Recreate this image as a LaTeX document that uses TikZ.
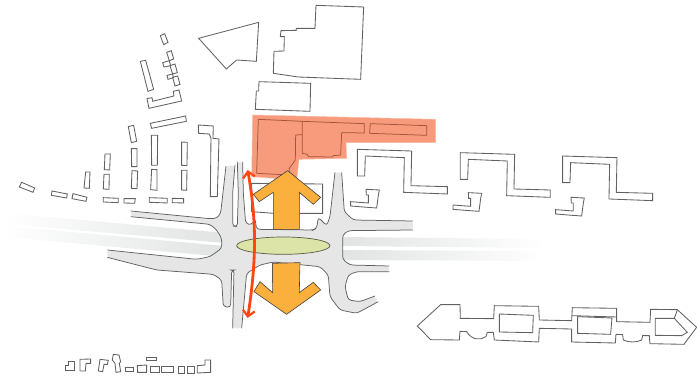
\documentclass[tikz,border=0pt]{standalone}
\usetikzlibrary{arrows.meta}
\definecolor{roadfill}{HTML}{E6E6E6}
\definecolor{bandc}{HTML}{E1E3E3}
\definecolor{peach}{HTML}{F79B7C}
\definecolor{peachline}{HTML}{A5533A}
\definecolor{amber}{HTML}{FBAF3C}
\definecolor{olive}{HTML}{DDE4A8}
\definecolor{redarrow}{HTML}{FF4514}
\tikzset{
  bld/.style={draw=black!62,line width=0.85pt,line join=miter,fill=none},
  roadedge/.style={draw=black!62,line width=0.75pt,rounded corners=3pt},
  bigarrow/.style={fill=amber,draw=black!75,line width=0.6pt,line join=miter},
  inpeach/.style={draw=peachline,line width=0.75pt},
  zoomA/.style={shift={(0,0)},x=0.3333pt,y=-0.3333pt},
  zoomB/.style={shift={(190,0)},x=0.3333pt,y=-0.3333pt},
  zoomC/.style={shift={(100,160)},x=0.3333pt,y=-0.3333pt},
  zoomD/.style={shift={(340,140)},x=0.3333pt,y=-0.3333pt},
  zoomE/.style={shift={(410,290)},x=0.3333pt,y=-0.3333pt},
  zoomF/.style={shift={(50,345)},x=0.3333pt,y=-0.3333pt},
}
\newcommand\rdA{--(362,160)--(350,175)--(330,176)--(92,153)}
\newcommand\rdB{--(330,193)--(350,210)--(365,235)--(365,265)--(330,290)--(290,298)--(22,270)}
\newcommand\rdC{--(170,330)--(340,343)--(365,360)--(370,440)--(392,442)--(395,330)--(402,330)--(398,505)}
\newcommand\rdD{--(440,340)--(480,315)--(520,306)--(660,320)--(685,345)--(690,410)--(720,450)--(770,460)--(835,425)}
\newcommand\rdE{--(780,425)--(745,420)--(735,380)--(745,345)--(770,335)--(868,335)}
\newcommand\rdF{--(750,315)--(728,298)--(728,225)--(745,212)--(939,210)}
\newcommand\rdG{--(760,180)--(733,155)--(725,37)}
\newcommand\rdH{--(690,170)--(680,197)--(655,172)--(650,205)--(640,210)--(470,208)--(465,175)--(455,195)--(437,190)--(430,100)--(428,5)}
\newcommand\rdI{--(415,100)--(412,200)--(398,198)--(398,100)--(405,15)}
\begin{document}
\begin{tikzpicture}[x=1pt,y=-1pt]
\useasboundingbox (0,0) rectangle (697,378);
% highway bands
\shade[left color=white,middle color=bandc!75,right color=bandc] (5,213)--(225,233)--(225,243)--(5,224)--cycle;
\shade[left color=white,middle color=bandc!75,right color=bandc] (5,226)--(225,246)--(225,257)--(5,237)--cycle;
\shade[left color=bandc,middle color=bandc!70,right color=white] (340,237)--(545,239)--(545,248)--(340,246)--cycle;
\shade[left color=bandc,middle color=bandc!70,right color=white] (340,250)--(545,251)--(545,261)--(340,260)--cycle;
% road
\begin{scope}[zoomC]
\fill[roadfill,rounded corners=3pt] (378,18)\rdA--(92,170)\rdB--(22,292)\rdC--(425,505)\rdD--(825,408)\rdE--(868,318)\rdF--(939,183)\rdG--(705,37)\rdH--(412,5)\rdI--cycle;
\draw[roadedge] (378,18)\rdA;
\draw[roadedge] (92,170)\rdB;
\draw[roadedge] (22,292)\rdC;
\draw[roadedge] (425,505)\rdD;
\draw[roadedge] (825,408)\rdE;
\draw[roadedge] (868,318)\rdF;
\draw[roadedge] (939,183)\rdG;
\draw[roadedge] (705,37)\rdH;
\draw[roadedge] (412,5)\rdI;
% buildings behind the arrow
\draw[bld] (455,155)--(455,70)--(668,72)--(668,160)--(600,160);
\draw[bld] (455,155)--(520,160);
\draw[bld] (518,310)--(518,370);
\end{scope}
% left blocks
\begin{scope}[zoomA]
\foreach \p in {
 {(481,107)--(494,101)--(504,127)--(491,134)},
 {(500,157)--(514,152)--(521,177)--(508,182)},
 {(488,188)--(508,182)--(512,197)--(492,201)},
 {(510,197)--(525,192)--(532,218)--(518,222)},
 {(501,226)--(518,222)--(520,233)--(504,238)},
 {(518,232)--(533,228)--(540,253)--(525,258)},
 {(421,184)--(437,181)--(461,268)--(444,274)},
 {(441,296)--(456,293)--(458,304)--(522,288)--(520,274)--(537,270)--(545,303)--(447,325)},
 {(451,370)--(557,348)--(559,364)--(455,385)},
 {(385,380)--(401,376)--(410,424)--(394,428)},
 {(394,446)--(411,446)--(411,500)--(395,500)},
 {(396,512)--(413,513)--(411,566)--(394,565)},
 {(454,406)--(473,406)--(472,496)--(455,496)},
 {(455,508)--(471,509)--(471,571)--(452,569)},
 {(545,426)--(562,427)--(561,497)--(545,496)},
 {(545,511)--(561,511)--(560,571)--(545,570)},
 {(315,462)--(331,462)--(329,510)--(313,509)},
 {(312,523)--(328,523)--(327,568)--(310,567)},
 {(257,516)--(270,516)--(268,565)--(252,564)},
 {(310,593)--(355,595)--(355,608)--(310,606)},
 {(372,596)--(406,596)--(404,610)--(372,609)},
 {(448,593)--(502,595)--(502,609)--(448,607)},
 {(517,595)--(551,596)--(551,609)--(517,608)},
 {(65,547)--(104,564)--(99,577)--(58,561)},
 {(156,573)--(202,582)--(200,594)--(154,586)},
 {(219,581)--(261,592)--(258,604)--(216,596)},
 {(595,375)--(640,378)--(639,415)--(657,417)--(652,590)--(631,590)--(633,415)--(628,402)--(596,400)}
}{\draw[bld] \p --cycle;}
\end{scope}
% peach area and upper buildings
\begin{scope}[zoomB]
\fill[peach,draw=peach!70,line width=0.5pt] (188,345)--(737,358)--(737,428)--(468,428)--(470,475)--(327,478)--(320,540)--(185,530)--cycle;
\draw[inpeach] (337,364)--(337,404)--(317,405)--(316,480)--(298,505)--(297,525)--(200,520)--(205,358)--(337,364)--(523,371)--(523,399)--(455,398)--(452,465)--(430,467)--(428,471)--(355,470)--(352,463)--(337,460)--(337,404);
\draw[inpeach] (541,371)--(710,377)--(710,406)--(539,400)--cycle;
\draw[bld] (26,115)--(206,67)--(199,184)--(140,180)--(109,207)--cycle;
\draw[bld] (378,16)--(521,21)--(512,238)--(325,231)--(250,220)--(252,154)--(282,153)--(283,110)--(271,110)--(273,92)--(319,91)--(319,85)--(375,85)--cycle;
\draw[bld] (207,245)--(362,250)--(360,334)--(196,328)--(199,273)--(206,273)--cycle;
\end{scope}
% U-shaped blocks
\begin{scope}[zoomD]
\foreach \dx/\dy/\ex/\ey in {0/0/0/0,309/10/307/10,616/20/615/24}{
 \draw[bld] (52+\dx,28+\dy)--(215+\dx,33+\dy)--(213+\dx,137+\dy)--(322+\dx,140+\dy)--(322+\dx,162+\dy)--(191+\dx,157+\dy)--(193+\dx,53+\dy)--(76+\dx,48+\dy)--(74+\dx,108+\dy)--(52+\dx,108+\dy)--cycle;
 \draw[bld] (78+\ex,148+\ey)--(118+\ex,150+\ey)--(115+\ex,166+\ey)--(110+\ex,204+\ey)--(82+\ex,202+\ey)--(32+\ex,198+\ey)--(32+\ex,185+\ey)--(85+\ex,189+\ey)--(85+\ex,165+\ey)--(79+\ex,165+\ey)--cycle;
}
\end{scope}
% long building
\begin{scope}[zoomE]
\draw[bld] (22,108)--(92,44)--(150,44)--(151,85)--(251,86)--(253,47)--(386,49)--(388,90)--(485,92)--(487,53)--(620,55)--(620,95)--(720,97)--(722,58)--(802,59)--(860,112)--(822,163)--(720,161)--(718,137)--(698,137)--(695,150) .. controls (680,158) and (655,158) .. (640,150)--(638,134)--(618,133)--(616,159)--(485,156)--(485,117)--(388,115)--(386,156)--(253,150)--(250,127)--(232,127)--(228,140) .. controls (210,152) and (185,150) .. (170,125)--(150,124)--(148,150)--(62,149)--cycle;
\draw[bld] (268,72)--(370,76)--(368,128)--(268,126)--cycle;
\draw[bld] (503,80)--(606,84)--(602,133)--(503,130)--cycle;
\draw[bld] (487,77)--(620,81);
\draw[bld] (736,85)--(793,85)--(832,127)--(815,137)--(736,136)--cycle;
\draw[bld] (793,85)--(802,60);
\end{scope}
% bottom small blocks
\begin{scope}[zoomF]
\foreach \p in {
 {(55,50)--(72,50)--(72,76)--(45,76)--(45,62)--(55,62)},
 {(90,43)--(122,42)--(122,55)--(108,55)--(106,78)--(90,78)},
 {(150,43)--(175,46)--(172,58)--(162,58)--(158,80)--(145,78)},
 {(190,28)--(207,30)--(212,50)--(208,55)--(212,80)--(198,82)--(195,55)--(187,45)},
 {(225,67)--(250,67)--(250,78)--(225,78)},
 {(262,62)--(290,60)--(290,82)--(263,82)},
 {(288,36)--(318,36)--(318,46)--(288,46)},
 {(302,64)--(327,64)--(327,82)--(302,82)},
 {(335,65)--(370,65)--(370,82)--(335,82)},
 {(385,65)--(404,65)--(404,84)--(385,84)},
 {(412,65)--(432,65)--(432,84)--(412,84)},
 {(442,62)--(465,60)--(465,45)--(482,45)--(482,82)--(442,84)}
}{\draw[bld] \p --cycle;}
\end{scope}
% main arrows, ellipse
\begin{scope}[zoomC]
\draw[bigarrow] (563,32)--(662,112)--(640,133)--(598,97)--(598,208)--(520,208)--(520,97)--(478,125)--(460,103)--cycle;
\draw[bigarrow] (600,308)--(598,398)--(640,367)--(662,390)--(560,463)--(462,395)--(480,365)--(518,398)--(518,310)--cycle;
\draw[fill=olive,draw=black!60!olive,line width=0.7pt] (550,257) ellipse [x radius=140,y radius=26];
\draw[redarrow,line width=2.8pt,{Straight Barb[length=6pt,width=12pt,line width=2.2pt]}-{Straight Barb[length=6pt,width=12pt,line width=2.2pt]}] (443,30) .. controls (470,180) and (470,300) .. (443,474);
\end{scope}
\end{tikzpicture}
\end{document}
